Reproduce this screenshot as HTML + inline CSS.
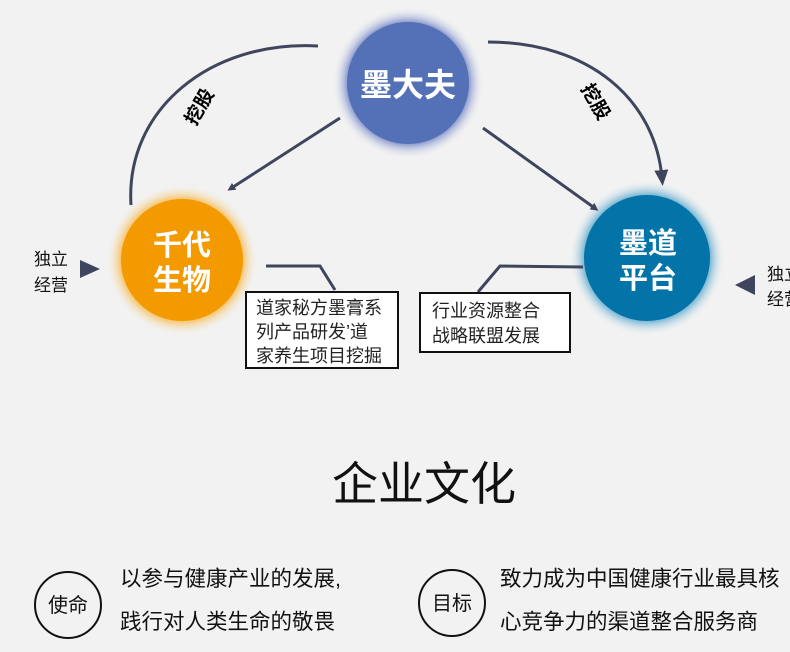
<!DOCTYPE html>
<html><head><meta charset="utf-8"><style>
body{margin:0;width:790px;height:652px;background:#f2f2f2;overflow:hidden;font-family:"Liberation Sans","Noto Sans CJK SC",sans-serif;}
svg{position:absolute;left:0;top:0}
</style></head><body>
<svg width="790" height="652" viewBox="0 0 790 652">
<defs>
<radialGradient id="gb" cx="50%" cy="50%" r="50%"><stop offset="80%" stop-color="#8c9bd0"/><stop offset="100%" stop-color="#f2f2f2" stop-opacity="0"/></radialGradient>
<radialGradient id="go" cx="50%" cy="50%" r="50%"><stop offset="80%" stop-color="#f6c46a"/><stop offset="100%" stop-color="#f2f2f2" stop-opacity="0"/></radialGradient>
<radialGradient id="gt" cx="50%" cy="50%" r="50%"><stop offset="80%" stop-color="#6fb2d2"/><stop offset="100%" stop-color="#f2f2f2" stop-opacity="0"/></radialGradient>
<marker id="ah" markerWidth="8" markerHeight="8" refX="5" refY="4" orient="auto" markerUnits="userSpaceOnUse"><path d="M0,0 L8,4 L0,8 z" fill="#40455e"/></marker>
<marker id="ah2" markerWidth="16" markerHeight="14" refX="8" refY="7" orient="auto" markerUnits="userSpaceOnUse"><path d="M0,0 L16,7 L0,14 z" fill="#40455e"/></marker>
</defs>
<circle cx="408" cy="83" r="76" fill="url(#gb)"/>
<circle cx="408" cy="83" r="61" fill="#5470b6"/>
<circle cx="182" cy="260" r="76" fill="url(#go)"/>
<circle cx="182" cy="260" r="61" fill="#f39a00"/>
<circle cx="647" cy="258" r="78" fill="url(#gt)"/>
<circle cx="647" cy="258" r="63" fill="#0473a8"/>
<g stroke="#40455e" stroke-width="3" fill="none">
<path d="M131,205 C125,110 210,40 318,46"/>
<path d="M488,42 C590,42 655,100 662,178" marker-end="url(#ah2)"/>
<path d="M340,118 L230,189" marker-end="url(#ah)"/>
<path d="M483,128 L596,209" marker-end="url(#ah)"/>
<path d="M266,266 L320,266 L335,290"/>
<path d="M583,267 L500,266 L478,292"/>
</g>
<path d="M80,260 L100,269 L80,278 z" fill="#40455e"/>
<path d="M755,275 L735,285 L755,295 z" fill="#40455e"/>
<g fill="#fff" font-weight="bold" text-anchor="middle">
<text x="408" y="96" font-size="32">墨大夫</text>
<text x="182" y="255" font-size="29">千代</text>
<text x="182" y="290" font-size="29">生物</text>
<text x="648" y="253" font-size="29">墨道</text>
<text x="648" y="288" font-size="29">平台</text>
</g>
<text x="0" y="0" font-size="19" font-weight="bold" transform="translate(205,110) rotate(-60)" text-anchor="middle">挖股</text>
<text x="0" y="0" font-size="19" font-weight="bold" transform="translate(590,105) rotate(60)" text-anchor="middle">挖股</text>
<g font-size="17" fill="#111">
<text x="34" y="265">独立</text><text x="34" y="291">经营</text>
<text x="767" y="280">独立</text><text x="767" y="305">经营</text>
</g>
<rect x="246" y="292" width="152" height="76" fill="#fff" stroke="#111" stroke-width="2"/>
<rect x="420" y="293" width="150" height="59" fill="#fff" stroke="#111" stroke-width="2"/>
<g font-size="18" fill="#222">
<text x="256" y="314">道家秘方墨膏系</text>
<text x="256" y="338">列产品研发’道</text>
<text x="256" y="362">家养生项目挖掘</text>
<text x="432" y="317">行业资源整合</text>
<text x="432" y="342">战略联盟发展</text>
</g>
<text x="424" y="500" font-size="46" text-anchor="middle" fill="#111">企业文化</text>
<circle cx="68" cy="605" r="33" fill="none" stroke="#111" stroke-width="2"/>
<circle cx="452" cy="603" r="33" fill="none" stroke="#111" stroke-width="2"/>
<g font-size="20" fill="#111">
<text x="68" y="612" text-anchor="middle">使命</text>
<text x="452" y="610" text-anchor="middle">目标</text>
</g>
<g font-size="21.5" fill="#111">
<text x="120" y="586">以参与健康产业的发展,</text>
<text x="120" y="629">践行对人类生命的敬畏</text>
<text x="500" y="586">致力成为中国健康行业最具核</text>
<text x="500" y="629">心竞争力的渠道整合服务商</text>
</g>
</svg>
</body></html>
